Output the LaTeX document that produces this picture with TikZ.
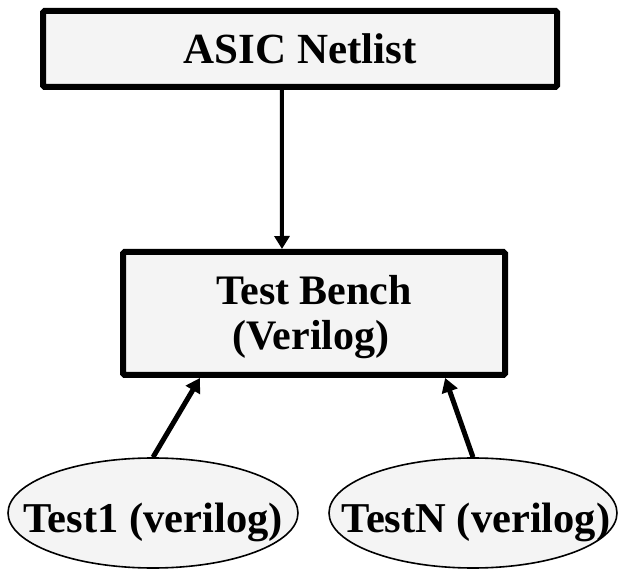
\documentclass[tikz,border=0pt]{standalone}
\usepackage{fontspec}
\setmainfont{Liberation Serif}
\usetikzlibrary{arrows.meta,calc,shapes.geometric}
\definecolor{boxfill}{HTML}{F4F4F4}
\begin{document}
\begin{tikzpicture}[x=1pt,y=-1pt,
  box/.style={draw=black, line width=6pt, fill=boxfill, rounded corners=1.5pt,
    inner sep=0pt, align=center},
  oval/.style={draw=black, ellipse, line width=1.6pt, fill=boxfill, inner sep=0pt},
  lbl/.style={font=\bfseries\fontsize{42.5}{45}\selectfont, inner sep=0pt, anchor=base},
  arr/.style={line width=4pt, -{Triangle[length=13pt,width=15pt]}},
  thickarr/.style={arr, line width=5pt, -{Triangle[length=14pt,width=16pt]}}]
\useasboundingbox (0,0) rectangle (619,569);

% boxes
\node[box, minimum width=514pt, minimum height=76pt,
  font=\bfseries\fontsize{43}{45}\selectfont] (net) at (300,49) {ASIC Netlist};
\node[box, minimum width=382pt, minimum height=123pt] (tb) at (314,313.5) {};
\node[lbl, font=\bfseries\fontsize{42}{45}\selectfont] (tbl1) at (314,305) {Test Bench};
\node[lbl, font=\bfseries\fontsize{42}{45}\selectfont] (tbl2) at (311,350) {(Verilog)};

% test ellipses
\node[oval, minimum width=290pt, minimum height=110pt] (t1) at (153,513) {};
\node[oval, minimum width=288pt, minimum height=110pt] (tn) at (473,513) {};
\node[lbl] (t1txt) at (153,532) {Test1 (verilog)};
\node[lbl] (tntxt) at (476,532) {TestN (verilog)};

% connectors
\draw[arr] ($(net.south west)!0.465!(net.south east)$) -- ($(tb.north west)!0.4175!(tb.north east)$);
\draw[thickarr] (t1.north) -- ($(tb.south west)!0.206!(tb.south east)$);
\draw[thickarr] (tn.north) -- ($(tb.south west)!0.838!(tb.south east)$);
\end{tikzpicture}
\end{document}
